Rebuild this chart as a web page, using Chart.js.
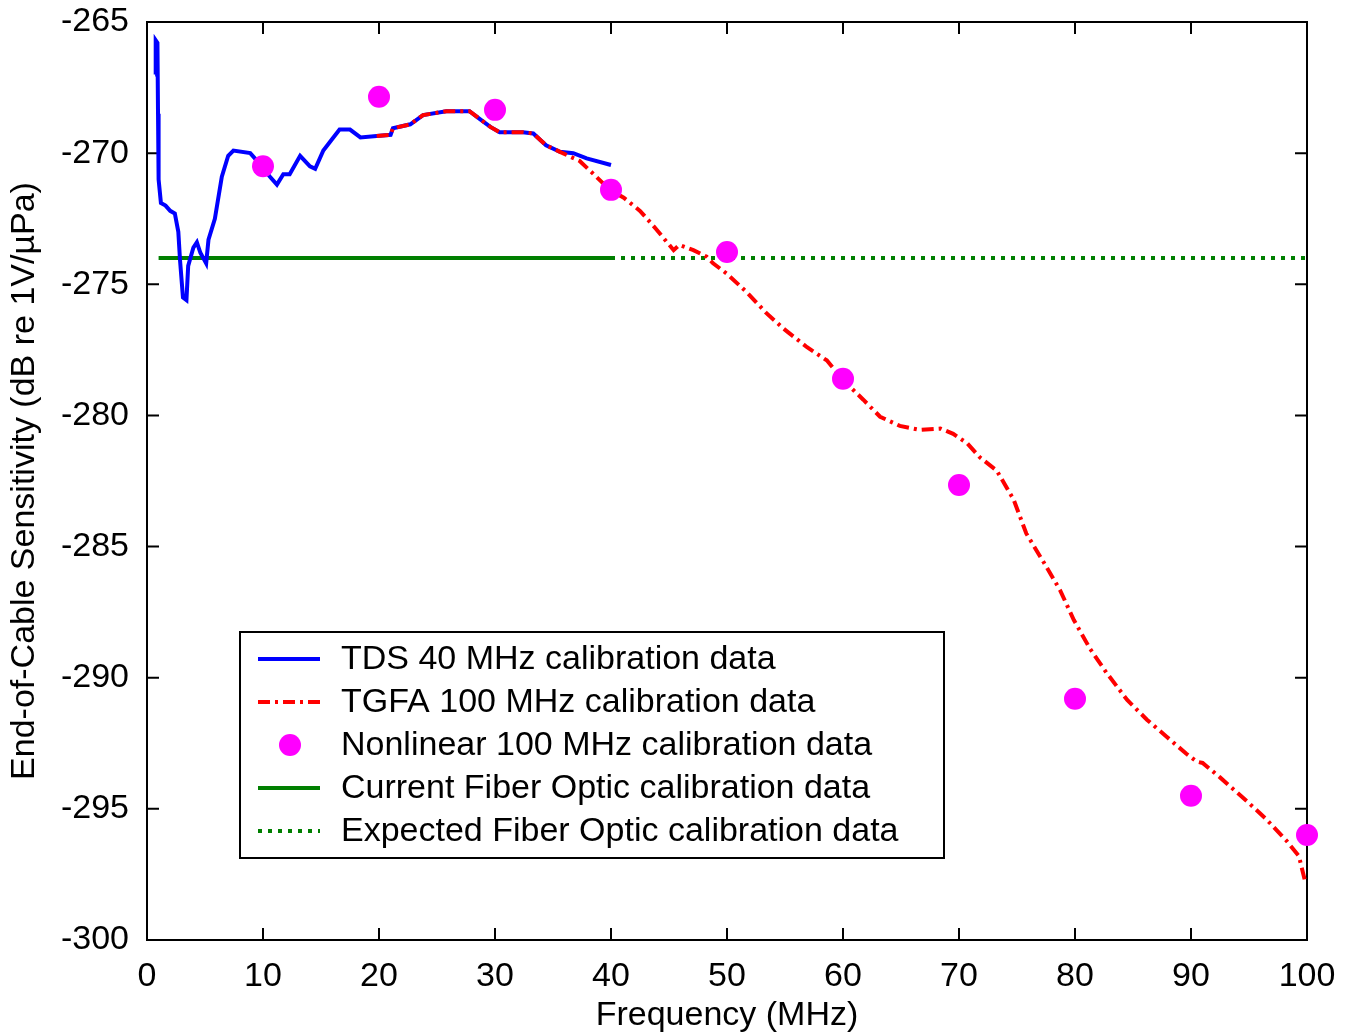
<!DOCTYPE html>
<html>
<head>
<meta charset="utf-8">
<script src="https://cdn.jsdelivr.net/npm/chart.js@4.4.1/dist/chart.umd.min.js"></script>
<style>
  html, body { margin: 0; padding: 0; background: #fff; }
  #wrap { width: 1353px; height: 1036px; position: relative; }
</style>
</head>
<body>
<div id="wrap"><canvas id="myChart"></canvas></div>
<script>
const FONT = "'Liberation Sans', Arial, sans-serif";

// TDS 40 MHz calibration data (blue)
const tdsFreq = [0.7, 0.75, 0.9, 0.95, 1.0, 1.2, 1.6, 2.0, 2.4, 2.7, 2.85, 3.1, 3.4, 3.55, 4.0, 4.3, 4.6, 5.1, 5.3, 5.85,
    6.45, 7.0, 7.45, 8.9, 9.7, 10.6, 11.2, 11.75, 12.3, 13.2, 14.05, 14.5, 15.2, 15.9, 16.6, 17.5, 18.4, 19.8,
    21.0, 21.2, 22.7, 23.8, 25.8, 27.8, 28.7, 29.6, 30.4, 32.4, 33.3, 34.4, 35.6, 36.75, 37.9, 40.0];
const tdsSens = [-267.0, -265.7, -265.8, -268.5, -271.0, -271.9, -272.0, -272.2, -272.3, -273.0, -274.1, -275.5, -275.6, -274.3, -273.6, -273.4, -273.8, -274.2, -273.3, -272.5,
    -270.9, -270.1, -269.9, -270.0, -270.4, -270.9, -271.2, -270.8, -270.8, -270.1, -270.5, -270.6, -269.9, -269.5, -269.1, -269.1, -269.4, -269.35,
    -269.3, -269.05, -268.9, -268.55, -268.4, -268.4, -268.7, -269.0, -269.2, -269.2, -269.25, -269.7, -269.95, -270.0, -270.2, -270.45];

// TGFA 100 MHz calibration data (red)
const tgfaFreq = [19.8, 21.0, 21.2, 22.7, 23.8, 25.8, 27.8, 28.7, 29.6, 30.4, 32.4, 33.3, 34.4, 35.6, 37.3, 38.5, 39.9, 41.1,
    42.5, 43.9, 45.4, 45.9, 47.1, 48.25, 48.8, 50.0, 51.7, 53.4, 54.9, 56.9, 58.6, 60.0, 61.75, 63.2, 64.9, 66.6, 68.4,
    69.5, 70.7, 71.8, 73.25, 74.7, 75.8, 77.3, 78.7, 79.9, 81.3, 82.7, 84.5, 86.2, 87.9, 89.6, 90.5, 91.0, 92.5, 94.8,
    96.5, 98.2, 99.3, 99.8];
const tgfaSens = [-269.35, -269.3, -269.05, -268.9, -268.55, -268.4, -268.4, -268.7, -269.0, -269.2, -269.2, -269.25, -269.7, -269.95, -270.3, -270.8, -271.4, -271.7,
    -272.2, -272.9, -273.7, -273.5, -273.7, -273.95, -274.2, -274.6, -275.3, -276.1, -276.7, -277.4, -277.9, -278.65, -279.4, -280.05, -280.4, -280.55, -280.5,
    -280.7, -281.06, -281.6, -282.1, -283.2, -284.5, -285.6, -286.65, -287.8, -288.9, -289.8, -290.85, -291.6, -292.25, -292.9, -293.2, -293.25, -293.8, -294.7,
    -295.4, -296.2, -296.8, -297.7];

// Nonlinear 100 MHz calibration data (magenta dots)
const nlFreq = [10, 20, 30, 40, 50, 60, 70, 80, 90, 100];
const nlSens = [-270.5, -267.85, -268.35, -271.4, -273.77, -278.6, -282.65, -290.8, -294.5, -296.0];

// Fiber optic calibration levels
const currentFreq = [1, 40];
const currentSens = [-274, -274];
const expectedFreq = [40, 100];
const expectedSens = [-274, -274];

const xTicks = [0, 10, 20, 30, 40, 50, 60, 70, 80, 90, 100];
const yTicks = [-300, -295, -290, -285, -280, -275, -270, -265];

function pairs(xs, ys) {
    let out = [];
    for (let i = 0; i < xs.length; i++) {
        out.push({x: xs[i], y: ys[i]});
    }
    return out;
}

const legendItems = [
    {label: "TDS 40 MHz calibration data", color: "#0000ff", dash: [], kind: "line"},
    {label: "TGFA 100 MHz calibration data", color: "#ff0000", dash: [12, 5, 3, 5], kind: "line"},
    {label: "Nonlinear 100 MHz calibration data", color: "#ff00ff", dash: [], kind: "dot"},
    {label: "Current Fiber Optic calibration data", color: "#007f00", dash: [], kind: "line"},
    {label: "Expected Fiber Optic calibration data", color: "#007f00", dash: [4, 6], kind: "line"}
];

// Box round the plot with inward ticks on all four sides
const framePlugin = {
    id: 'frame',
    beforeDatasetsDraw(chart) {
        const ctx = chart.ctx;
        const a = chart.chartArea;
        const xs = chart.scales.x, ys = chart.scales.y;
        const tl = 12;
        ctx.save();
        ctx.strokeStyle = "#000";
        ctx.lineWidth = 2;
        ctx.strokeRect(a.left, a.top, a.right - a.left, a.bottom - a.top);
        ctx.beginPath();
        xTicks.forEach(function(v) {
            let px = xs.getPixelForValue(v);
            ctx.moveTo(px, a.bottom); ctx.lineTo(px, a.bottom - tl);
            ctx.moveTo(px, a.top); ctx.lineTo(px, a.top + tl);
        });
        yTicks.forEach(function(v) {
            let py = ys.getPixelForValue(v);
            ctx.moveTo(a.left, py); ctx.lineTo(a.left + tl, py);
            ctx.moveTo(a.right, py); ctx.lineTo(a.right - tl, py);
        });
        ctx.stroke();
        ctx.restore();
    }
};

// Legend box inside the plot, lower left
const legendPlugin = {
    id: 'boxLegend',
    afterDraw(chart) {
        const ctx = chart.ctx;
        const x0 = 240, y0 = 632, w = 704, h = 226;
        ctx.save();
        ctx.fillStyle = "#fff";
        ctx.fillRect(x0, y0, w, h);
        ctx.strokeStyle = "#000";
        ctx.lineWidth = 2;
        ctx.strokeRect(x0, y0, w, h);
        ctx.font = "34px " + FONT;
        ctx.textBaseline = "middle";
        legendItems.forEach(function(item, i) {
            let cy = 659 + i * 43;
            ctx.strokeStyle = item.color;
            ctx.fillStyle = item.color;
            if (item.kind == "dot") {
                ctx.beginPath();
                ctx.arc(290, cy, 11, 0, Math.PI * 2);
                ctx.fill();
            } else {
                ctx.lineWidth = 4;
                ctx.setLineDash(item.dash);
                ctx.beginPath();
                ctx.moveTo(258, cy);
                ctx.lineTo(320, cy);
                ctx.stroke();
                ctx.setLineDash([]);
            }
            ctx.fillStyle = "#000";
            ctx.fillText(item.label, 341, cy + 1);
        });
        ctx.restore();
    }
};

const config = {
    type: 'scatter',
    data: {
        datasets: [
            {
                label: "Nonlinear 100 MHz calibration data",
                data: pairs(nlFreq, nlSens),
                showLine: false,
                pointRadius: 11,
                pointBackgroundColor: "#ff00ff",
                pointBorderWidth: 0,
                clip: false,
                order: 0
            },
            {
                label: "TGFA 100 MHz calibration data",
                data: pairs(tgfaFreq, tgfaSens),
                showLine: true,
                borderColor: "#ff0000",
                borderWidth: 4,
                borderDash: [12, 5, 3, 5],
                pointRadius: 0,
                order: 1
            },
            {
                label: "TDS 40 MHz calibration data",
                data: pairs(tdsFreq, tdsSens),
                showLine: true,
                borderColor: "#0000ff",
                borderWidth: 4,
                pointRadius: 0,
                order: 2
            },
            {
                label: "Current Fiber Optic calibration data",
                data: pairs(currentFreq, currentSens),
                showLine: true,
                borderColor: "#007f00",
                borderWidth: 4,
                pointRadius: 0,
                order: 3
            },
            {
                label: "Expected Fiber Optic calibration data",
                data: pairs(expectedFreq, expectedSens),
                showLine: true,
                borderColor: "#007f00",
                borderWidth: 4,
                borderDash: [4, 6],
                pointRadius: 0,
                order: 4
            }
        ]
    },
    options: {
        responsive: true,
        maintainAspectRatio: false,
        animation: false,
        layout: { padding: { left: 0, top: 22, right: 46, bottom: 0 } },
        plugins: {
            legend: { display: false },
            tooltip: { enabled: false }
        },
        scales: {
            x: {
                type: 'linear',
                min: 0, max: 100,
                grid: { display: false },
                border: { display: false },
                afterFit: function(s) { s.height = 96; s.paddingLeft = 0; s.paddingRight = 0; },
                afterBuildTicks: function(s) { s.ticks = xTicks.map(v => ({value: v})); },
                ticks: { padding: 8, color: "#000", font: { family: FONT, size: 34 }, maxRotation: 0 },
                title: { display: true, text: "Frequency (MHz)", color: "#000", font: { family: FONT, size: 34 }, padding: { top: 0, bottom: 0 } }
            },
            y: {
                type: 'linear',
                min: -300, max: -265,
                grid: { display: false },
                border: { display: false },
                afterFit: function(s) { s.width = 147; s.paddingTop = 0; s.paddingBottom = 0; },
                afterBuildTicks: function(s) { s.ticks = yTicks.map(v => ({value: v})); },
                ticks: { padding: 10, color: "#000", font: { family: FONT, size: 34 } },
                title: { display: true, text: "End-of-Cable Sensitivity (dB re 1V/µPa)", color: "#000", font: { family: FONT, size: 34 }, padding: { top: 4, bottom: 0 } }
            }
        }
    },
    plugins: [framePlugin, legendPlugin]
};

const myChart = new Chart(document.getElementById("myChart"), config);
</script>
</body>
</html>
